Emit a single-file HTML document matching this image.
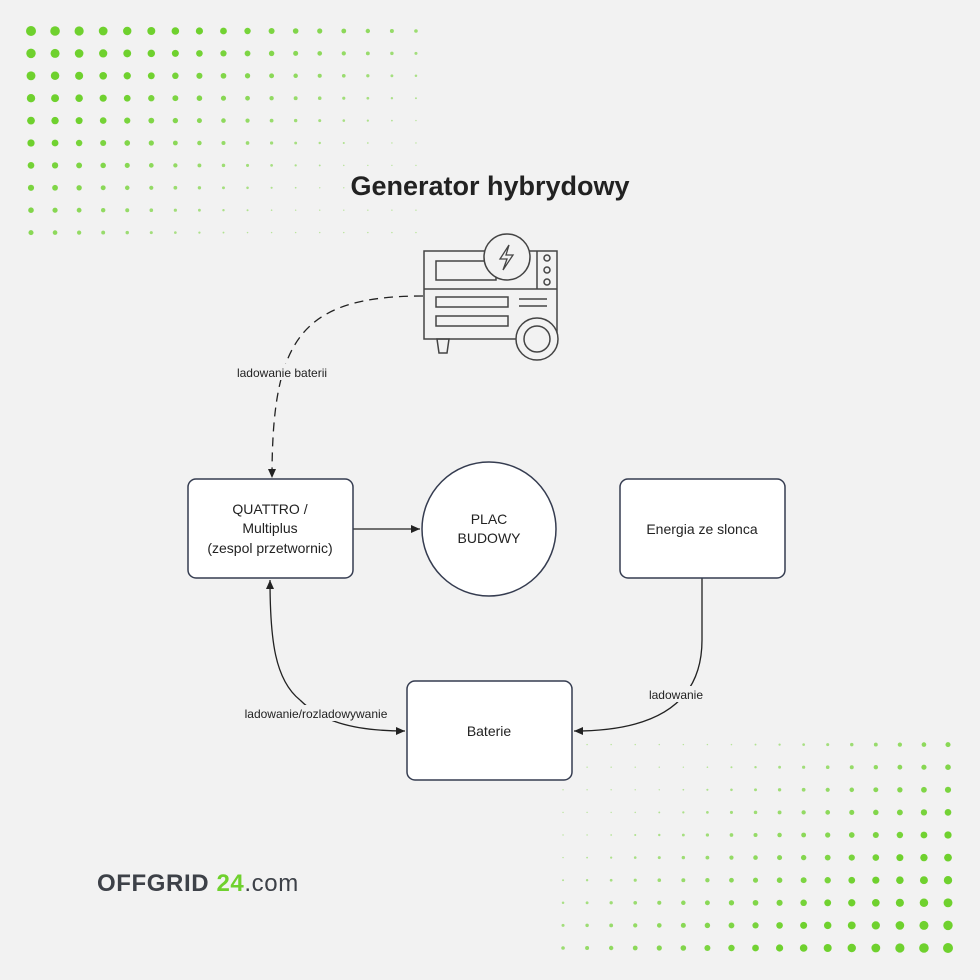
<!DOCTYPE html>
<html><head><meta charset="utf-8"><style>
html,body{margin:0;padding:0;background:#f2f2f2;}
svg{display:block;font-family:"Liberation Sans",sans-serif;}
</style></head><body>
<svg id="s" width="980" height="980" viewBox="0 0 980 980" xmlns="http://www.w3.org/2000/svg">
<rect width="980" height="980" fill="#f2f2f2"/>
<g id="dots" fill="#6fd12e"></g>
<defs>
<marker id="ah" markerWidth="10" markerHeight="10" refX="9" refY="5" orient="auto" markerUnits="userSpaceOnUse">
<path d="M0,1 L9,5 L0,9 z" fill="#222"/></marker>
</defs>
<text x="490" y="195" text-anchor="middle" font-size="27" font-weight="bold" fill="#222">Generator hybrydowy</text>

<!-- generator icon -->
<g fill="none" stroke="#444" stroke-width="1.5">
<rect x="424" y="251" width="133" height="88"/>
<line x1="424" y1="289" x2="557" y2="289"/>
<line x1="537" y1="251" x2="537" y2="289"/>
<rect x="436" y="261" width="60" height="19"/>
<rect x="436" y="297" width="72" height="10"/>
<rect x="436" y="316" width="72" height="10"/>
<line x1="519" y1="299" x2="547" y2="299"/>
<line x1="519" y1="306" x2="547" y2="306"/>
<circle cx="547" cy="258" r="3"/><circle cx="547" cy="270" r="3"/><circle cx="547" cy="282" r="3"/>
<circle cx="507" cy="257" r="23" fill="#f2f2f2"/>
<path d="M509,245 L500,259 L507,259 L503,270 L513,255 L506,255 Z" stroke-width="1.3"/>
<circle cx="537" cy="339" r="21" fill="#f2f2f2"/>
<circle cx="537" cy="339" r="13"/>
<path d="M437,339 L449,339 L447,353 L439,353 Z"/>
</g>

<!-- connectors -->
<g fill="none" stroke="#222" stroke-width="1.3">
<path d="M423,296 C300,296 272,340 272,478" stroke-dasharray="9,6" marker-end="url(#ah)"/>
<line x1="353" y1="529" x2="420" y2="529" marker-end="url(#ah)"/>
<path d="M702,578 L702,640 C702,700 660,731 574,731" marker-end="url(#ah)"/>
<path d="M300,700 C275,680 270,640 270,580" marker-end="url(#ah)"/>
<path d="M300,700 C320,720 350,731 405,731" marker-end="url(#ah)"/>
</g>
<rect x="228" y="364" width="108" height="16" fill="#f2f2f2"/>
<text x="282" y="377" text-anchor="middle" font-size="12" fill="#222">ladowanie baterii</text>
<rect x="236" y="705" width="160" height="16" fill="#f2f2f2"/>
<text x="316" y="718" text-anchor="middle" font-size="12" fill="#222">ladowanie/rozladowywanie</text>
<rect x="645" y="686" width="62" height="16" fill="#f2f2f2"/>
<text x="676" y="699" text-anchor="middle" font-size="12" fill="#222">ladowanie</text>

<!-- nodes -->
<g fill="#fff" stroke="#353c50" stroke-width="1.5">
<rect x="188" y="479" width="165" height="99" rx="8"/>
<rect x="620" y="479" width="165" height="99" rx="8"/>
<rect x="407" y="681" width="165" height="99" rx="8"/>
<circle cx="489" cy="529" r="67"/>
</g>
<g font-size="14" fill="#222" text-anchor="middle">
<text x="270" y="514">QUATTRO /</text>
<text x="270" y="533">Multiplus</text>
<text x="270" y="553">(zespol przetwornic)</text>
<text x="489" y="524">PLAC</text>
<text x="489" y="543">BUDOWY</text>
<text x="702" y="534">Energia ze slonca</text>
<text x="489" y="736">Baterie</text>
</g>
<text x="97" y="891" font-size="24" font-weight="bold" fill="#3d4148" letter-spacing="0.6">OFFGRID <tspan fill="#6fd12e">24</tspan><tspan font-weight="normal">.com</tspan></text>
</svg>
<script>
var g=document.getElementById('dots'),ns='http://www.w3.org/2000/svg';
function dot(x,y,r,o){if(r<0.4)return;var c=document.createElementNS(ns,'circle');c.setAttribute('cx',x);c.setAttribute('cy',y);c.setAttribute('r',r);c.setAttribute('opacity',o);g.appendChild(c);}
for(var i=0;i<17;i++)for(var j=0;j<10;j++){
 var f=1-0.04*i-0.055*j; if(f<0.14)f=0.14;
 var r=5*f, o=Math.min(1,0.3+f);
 dot(31+i*24.06,31+j*22.4,r,o);
 dot(948-i*24.06,948-j*22.6,r,o);
}
</script>
</body></html>
